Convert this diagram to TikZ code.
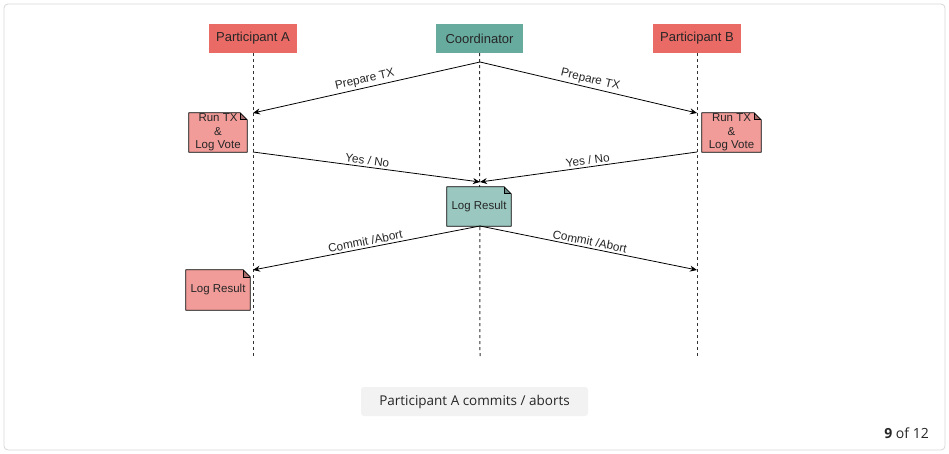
\documentclass[tikz,border=0pt]{standalone}
\usepackage{fontspec}
\setmainfont{Liberation Sans}
\newfontfamily\capfont{Open Sans}
\usetikzlibrary{arrows.meta,backgrounds}
\definecolor{partred}{HTML}{EA6B66}
\definecolor{coordgreen}{HTML}{67AB9F}
\definecolor{notered}{HTML}{F19C99}
\definecolor{notegreen}{HTML}{9AC7BF}
\definecolor{capgray}{HTML}{F2F2F2}
\definecolor{framegray}{HTML}{D6D6D6}
\definecolor{linegray}{HTML}{333333}
\tikzset{
  actor/.style={minimum width=88pt,minimum height=29pt,inner sep=0pt,font=\fontsize{13}{15}\selectfont,text=black!85},
  notebox/.style={inner sep=0pt,align=center,font=\fontsize{11.5}{13.5}\selectfont,text=black!85},
  lifeline/.style={draw=linegray,dash pattern=on 3pt off 3pt,line width=1pt},
  msg/.style={draw=black,line width=0.8pt,-{Stealth[length=7pt,width=6pt]}},
  msglabel/.style={font=\fontsize{11.8}{13}\selectfont,text=black!85,sloped,above,inner sep=2pt},
}
\newcommand{\notebg}[2]{%
  \fill[#2] (#1.south west) -- (#1.north west) -- ([xshift=-7pt]#1.north east) -- ([yshift=-7pt]#1.north east) -- (#1.south east) -- cycle;
  \fill[#2!70!black] ([xshift=-7pt]#1.north east) -- ([xshift=-7pt,yshift=-7pt]#1.north east) -- ([yshift=-7pt]#1.north east) -- cycle;
  \draw[line width=0.8pt,line join=round] (#1.south west) -- (#1.north west) -- ([xshift=-7pt]#1.north east) -- ([yshift=-7pt]#1.north east) -- (#1.south east) -- cycle;
  \draw[line width=0.6pt] ([xshift=-7pt]#1.north east) -- ([xshift=-7pt,yshift=-7pt]#1.north east) -- ([yshift=-7pt]#1.north east);
}
\begin{document}
\begin{tikzpicture}[x=1pt,y=-1pt]
\useasboundingbox (0,0) rectangle (949,454);

% actors
\node[actor,fill=partred] (pa) at (253,38.5) {Participant A};
\node[actor,fill=coordgreen,minimum width=87pt] (co) at (479.5,38.5) {Coordinator};
\node[actor,fill=partred] (pb) at (697,38.5) {Participant B};

% lifeline ends
\coordinate (paend) at (253,358);
\coordinate (coend) at (480,358);
\coordinate (pbend) at (697,358);

% message points
\coordinate (c1) at (480,62);
\coordinate (a1) at (253,113);
\coordinate (b1) at (697,113);
\coordinate (a2) at (253,152);
\coordinate (b2) at (697,152);
\coordinate (c2) at (480,182);
\coordinate (c3) at (480,226);
\coordinate (a3) at (253,270);
\coordinate (b3) at (697,270);

% notes
\node[notebox,minimum width=58pt,minimum height=39pt] (na) at (218,132.5) {Run TX\\\&\\Log Vote};
\node[notebox,minimum width=59pt,minimum height=39pt] (nb) at (731.5,132.5) {Run TX\\\&\\Log Vote};
\node[notebox,minimum width=64pt,minimum height=39pt] (nc) at (479,206.5) {Log Result};
\node[notebox,minimum width=64pt,minimum height=40pt] (nd) at (218,290) {Log Result};

\begin{scope}[on background layer]
  \draw[framegray,line width=0.8pt,rounded corners=4pt] (4,4) rectangle (945,450);
  \draw[lifeline] (pa.south) -- (paend);
  \draw[lifeline] (co.south) -- (coend);
  \draw[lifeline] (pb.south) -- (pbend);
  \notebg{na}{notered}
  \notebg{nb}{notered}
  \notebg{nc}{notegreen}
  \notebg{nd}{notered}
\end{scope}

% messages
\draw[msg] (c1) -- node[msglabel] {Prepare TX} (a1);
\draw[msg] (c1) -- node[msglabel] {Prepare TX} (b1);
\draw[msg] (a2) -- node[msglabel] {Yes / No} (c2);
\draw[msg] (b2) -- node[msglabel] {Yes / No} (c2);
\draw[msg] (c3) -- node[msglabel] {Commit /Abort} (a3);
\draw[msg] (c3) -- node[msglabel] {Commit /Abort} (b3);

% caption
\node[fill=capgray,rounded corners=3pt,minimum width=227pt,minimum height=29pt,inner sep=0pt,font=\capfont\fontsize{13.5}{16}\selectfont,text=black!85] (cap) at (474.5,401.5) {Participant A commits / aborts};
\node[anchor=east,font=\capfont\fontsize{14}{16}\selectfont,text=black!85,inner sep=0pt] (pg) at (929,433) {\textbf{9} of 12};
\end{tikzpicture}
\end{document}
